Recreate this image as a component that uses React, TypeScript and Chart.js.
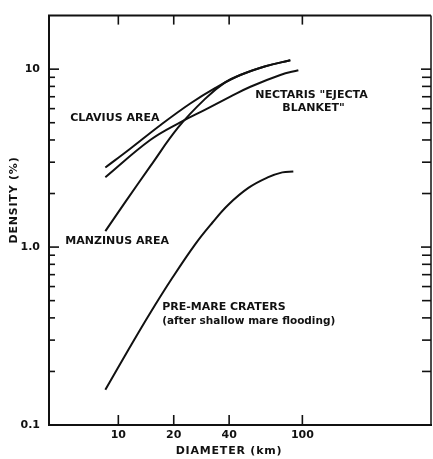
import React, { useEffect, useRef } from 'react';
import { Chart, registerables } from 'chart.js';

Chart.register(...registerables);

// ---- data (diameter km, density %) ----
const claviusDiameter = [8.5, 11.6, 16.9, 24.6, 33.7, 46.0, 63.0, 86.0];
const claviusDensity = [2.8, 3.57, 4.84, 6.41, 7.85, 9.27, 10.39, 11.21];

const manzinusDiameter = [8.5, 10.9, 14.9, 21.2, 29.7, 38.2, 46.0, 63.0, 86.0];
const manzinusDensity = [1.23, 1.79, 2.84, 4.72, 6.83, 8.45, 9.27, 10.39, 11.21];

const nectarisDiameter = [8.5, 14.9, 21.7, 29.7, 40.6, 52.2, 75.9, 95.1];
const nectarisDensity = [2.47, 4.0, 5.03, 5.93, 7.0, 7.96, 9.27, 9.87];

const preMareDiameter = [8.5, 11.3, 14.9, 19.7, 26.2, 32.4, 39.6, 50.9, 65.3, 77.8, 89.3];
const preMareDensity = [0.158, 0.263, 0.426, 0.674, 1.04, 1.37, 1.73, 2.15, 2.47, 2.63, 2.66];

// ---- ticks ----
const xTickValues = [10, 20, 40, 100];
const xTickLabels = ['10', '20', '40', '100'];
const yLabelValues = [0.1, 1, 10];
const yLabelTexts = ['0.1', '1.0', '10'];
const yMinorTickValues = [0.2, 0.3, 0.4, 0.5, 0.6, 0.7, 0.8, 0.9, 2, 3, 4, 5, 6, 7, 8, 9];

// ---- text ----
const xTitle = 'DIAMETER (km)';
const yTitle = 'DENSITY (%)';
const curveLabelTexts = ['CLAVIUS AREA', 'NECTARIS "EJECTA', 'BLANKET"', 'MANZINUS AREA', 'PRE-MARE CRATERS', '(after shallow mare flooding)'];
const curveLabelX = [5.48, 55.5, 77.8, 5.15, 17.3, 17.3];
const curveLabelY = [5.09, 6.92, 5.79, 1.039, 0.443, 0.371];

const FONT = '"DejaVu Sans", "Liberation Sans", sans-serif';
const INK = '#111';

const toPoints = (xs: number[], ys: number[]) => xs.map((x, i) => ({ x, y: ys[i] }));

const frameAndText = {
  id: 'frameAndText',
  afterDraw(chart: any) {
    const { ctx, chartArea: a } = chart;
    const x = chart.scales.x;
    const y = chart.scales.y;
    const seg = (x1: number, y1: number, x2: number, y2: number) => {
      ctx.beginPath();
      ctx.moveTo(x1, y1);
      ctx.lineTo(x2, y2);
      ctx.stroke();
    };
    ctx.save();
    ctx.strokeStyle = INK;
    ctx.lineCap = 'butt';
    ctx.lineWidth = 2;
    seg(a.left - 1, a.top, a.right, a.top);
    ctx.lineWidth = 1.5;
    seg(a.right, a.top, a.right, a.bottom);
    ctx.lineWidth = 1.6;
    for (const v of yLabelValues) {
      const py = y.getPixelForValue(v);
      seg(a.left, py, a.left + 10, py);
      seg(a.right, py, a.right - 10, py);
    }
    for (const v of yMinorTickValues) {
      const py = y.getPixelForValue(v);
      seg(a.left, py, a.left + 6, py);
      seg(a.right, py, a.right - 9, py);
    }
    for (const v of xTickValues) {
      const px = x.getPixelForValue(v);
      seg(px, a.bottom, px, a.bottom - 10);
      seg(px, a.top, px, a.top + 9);
    }

    ctx.fillStyle = INK;
    ctx.textBaseline = 'alphabetic';
    ctx.textAlign = 'left';
    curveLabelTexts.forEach((t, i) => {
      ctx.font = i === 5 ? `bold 10.5px ${FONT}` : `bold 11px ${FONT}`;
      ctx.fillText(t, x.getPixelForValue(curveLabelX[i]), y.getPixelForValue(curveLabelY[i]));
    });

    // axis titles
    ctx.font = `bold 11px ${FONT}`;
    ctx.textAlign = 'center';
    try { (ctx as any).letterSpacing = '0.8px'; } catch (e) {}
    ctx.fillText(xTitle, 229, 454);
    ctx.save();
    ctx.translate(17, 200);
    ctx.rotate(-Math.PI / 2);
    ctx.fillText(yTitle, 0, 0);
    ctx.restore();
    try { (ctx as any).letterSpacing = '0px'; } catch (e) {}
    ctx.restore();
  },
};

export default function App() {
  const ref = useRef<HTMLCanvasElement | null>(null);
  useEffect(() => {
    if (!ref.current) return;
    const line = (xs: number[], ys: number[]) => ({
      data: toPoints(xs, ys),
      showLine: true,
      borderColor: INK,
      borderWidth: 2,
      pointRadius: 0,
      fill: false,
      tension: 0.4,
    });
    const chart = new Chart(ref.current, {
      type: 'scatter',
      data: {
        datasets: [
          line(claviusDiameter, claviusDensity),
          line(manzinusDiameter, manzinusDensity),
          line(nectarisDiameter, nectarisDensity),
          line(preMareDiameter, preMareDensity),
        ],
      },
      options: {
        animation: false,
        responsive: false,
        maintainAspectRatio: false,
        layout: { padding: { top: 8, right: 2, left: 0, bottom: 0 } },
        plugins: { legend: { display: false }, tooltip: { enabled: false } },
        scales: {
          x: {
            type: 'logarithmic',
            min: 4.2,
            max: 500,
            position: 'bottom',
            afterBuildTicks: (s: any) => {
              s.ticks = xTickValues.map((v) => ({ value: v }));
            },
            afterFit: (s: any) => {
              s.height = 34;
            },
            grid: { display: false, drawTicks: false },
            border: { display: true, color: INK, width: 2 },
            ticks: {
              autoSkip: false,
              maxRotation: 0,
              padding: 4,
              color: INK,
              font: { family: FONT, weight: 'bold', size: 11 },
              callback: (v: any) => {
                const i = xTickValues.indexOf(Number(v));
                return i >= 0 ? xTickLabels[i] : '';
              },
            },
          },
          y: {
            type: 'logarithmic',
            min: 0.1,
            max: 20,
            afterBuildTicks: (s: any) => {
              s.ticks = yLabelValues.map((v) => ({ value: v }));
            },
            afterFit: (s: any) => {
              s.width = 49;
            },
            grid: { display: false, drawTicks: false },
            border: { display: true, color: INK, width: 2 },
            ticks: {
              autoSkip: false,
              padding: 9,
              color: INK,
              font: { family: FONT, weight: 'bold', size: 11 },
              callback: (v: any) => {
                const i = yLabelValues.indexOf(Number(v));
                return i >= 0 ? yLabelTexts[i] : '';
              },
            },
          },
        },
      },
      plugins: [frameAndText],
    } as any);
    return () => chart.destroy();
  }, []);
  return (
    <div style={{ position: 'fixed', left: 0, top: 0, width: 433, height: 459, background: '#fff' }}>
      <canvas ref={ref} width={433} height={459} style={{ width: 433, height: 459, display: 'block' }} />
    </div>
  );
}
